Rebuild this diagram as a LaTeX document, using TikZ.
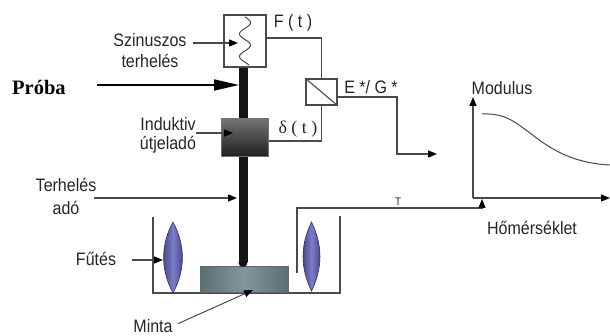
\documentclass[tikz,border=0pt]{standalone}
\usepackage{fontspec}
\setmainfont{Liberation Sans}
\newfontfamily\labfont[FakeStretch=0.89]{Liberation Sans}
\newfontfamily\probafont{Liberation Serif}
\newfontfamily\greekserif{Liberation Serif}
\usetikzlibrary{arrows.meta}
\definecolor{wirecol}{HTML}{4A4A4A}
\definecolor{flameedge}{HTML}{3A3A80}
\definecolor{flamemid}{HTML}{7C7CC8}
\definecolor{slateedge}{HTML}{5A7075}
\definecolor{slatemid}{HTML}{82959A}
\begin{document}
\begin{tikzpicture}[x=1pt,y=-1pt,
  wire/.style={draw=wirecol,line width=1.3pt},
  tip/.style={-{Triangle[length=9pt,width=7pt,color=black]}},
  bigtip/.style={-{Triangle[length=25pt,width=11pt,color=black]}},
  lab/.style={font=\labfont\fontsize{18}{21}\selectfont,text=black!85,align=center,inner sep=0pt},
  wall/.style={draw=wirecol,line width=1.5pt},
  flame/.style={left color=flameedge,right color=flameedge,middle color=flamemid,draw=flameedge!80!black,line width=0.6pt},
  whitebox/.style={draw=wirecol,line width=1.2pt,fill=white,inner sep=0pt}
]
\useasboundingbox (0,0) rectangle (610,336);

% heating vessel
\draw[wall] (153,217) -- (153,293) -- (340,293) -- (340,216);

% heater flames
\shade[flame] (173,222) .. controls (185.5,245) and (185.5,270) .. (173,293)
  .. controls (160.5,270) and (160.5,245) .. (173,222) -- cycle;
\shade[flame] (311.5,222) .. controls (322.8,245) and (322.8,268) .. (311.5,291)
  .. controls (300.2,268) and (300.2,245) .. (311.5,222) -- cycle;

% sample
\node[draw=black!60,line width=1pt,left color=slateedge,right color=slateedge,middle color=slatemid,
      minimum width=88pt,minimum height=26pt,inner sep=0pt] (minta) at (244,280) {};

% loading rod
\fill[black!92] (238.5,60) rectangle (247.5,262.5);
\fill[black!92] (243,262.5) circle[radius=4.5];

% sinusoidal load generator
\node[whitebox,minimum width=42pt,minimum height=52pt] (sinbox) at (245,41) {};
\draw[wirecol,line width=1pt] plot[domain=0:1,samples=80,smooth]
  ({245+5.5*sin(765*\x)},{17+48*\x});

% inductive displacement transducer
\node[draw=black!55,line width=1pt,top color=black!55,bottom color=black!88,
      minimum width=47pt,minimum height=38pt,inner sep=0pt] (ind) at (244.5,138) {};

% converter
\node[whitebox,minimum width=31pt,minimum height=26pt] (conv) at (321.5,92) {};
\draw[wirecol,line width=1.1pt] (conv.north west) -- (conv.south east);

% signal wires
\draw[wire] ([yshift=3pt]sinbox.east) -| (conv.north);
\draw[wire] (conv.south) |- ([yshift=-3pt]ind.east);
\coordinate (gout) at (437,154);
\draw[wire,tip] ([yshift=-5pt]conv.east) -| ([xshift=-40pt]gout) -- (gout);

% temperature line
\coordinate (Tin) at (297,273);
\coordinate (Tax) at (482,199);
\draw[wire,tip] (Tin) |- ([yshift=-9pt]Tax) -- (Tax);
\node[font=\labfont\fontsize{11}{13}\selectfont,text=black!85,inner sep=0pt] (Tlab) at (398,201.5) {T};

% modulus vs temperature plot
\coordinate (O) at (473,198);
\coordinate (ytop) at (473,97);
\coordinate (xend) at (610,198);
\draw[wire,tip] (O) -- (ytop);
\draw[wire,tip] (O) -- (xend);
\draw[wirecol,line width=1pt] (482,114) .. controls (505,113) and (515,122) .. (530,133)
  .. controls (548,147) and (570,163) .. (610,165);

% labels
\node[lab] (szin) at (150,51) {Szinuszos\\terhelés};
\node[font=\probafont\bfseries\fontsize{20.5}{24}\selectfont,inner sep=0pt,anchor=base west] (proba) at (12,95) {Próba};
\node[lab,font=\labfont\fontsize{18}{19}\selectfont] (induk) at (168,135) {Induktiv\\útjeladó};
\node[lab,font=\labfont\fontsize{18}{23}\selectfont] (terh) at (66,196) {Terhelés\\adó};
\node[lab] (futes) at (96,258.5) {Fűtés};
\node[lab] (mlab) at (153,326) {Minta};
\node[lab] (Ft) at (293,23) {F ( t )};
\node[lab,font=\greekserif\fontsize{18}{21}\selectfont] (dt) at (298,129) {δ ( t )};
\node[lab] (EG) at (371,87.5) {E */ G *};
\node[lab] (mod) at (502,88.5) {Modulus};
\node[lab] (hom) at (532,228) {Hőmérséklet};

% label arrows
\coordinate (wave) at (238,43);
\draw[wire,tip,shorten <=6pt] (szin.east |- wave) -- (wave);
\coordinate (pstart) at (97,85);
\coordinate (ptip) at (239,85);
\draw[black,line width=1.8pt,bigtip] (pstart) -- (ptip);
\coordinate (indtip) at (233,133);
\draw[wire,tip] (induk.east |- indtip) -- (indtip);
\coordinate (tatip) at (237,198);
\draw[wire,tip,shorten <=-2pt] (terh.east |- tatip) -- (tatip);
\coordinate (ftip) at (163,260);
\draw[wire,tip,shorten <=16pt] (futes.east |- ftip) -- (ftip);
\coordinate (mtip) at (253,290);
\draw[wire,line width=1pt,tip,shorten <=6pt] (mlab.east) -- (mtip);
\end{tikzpicture}
\end{document}
